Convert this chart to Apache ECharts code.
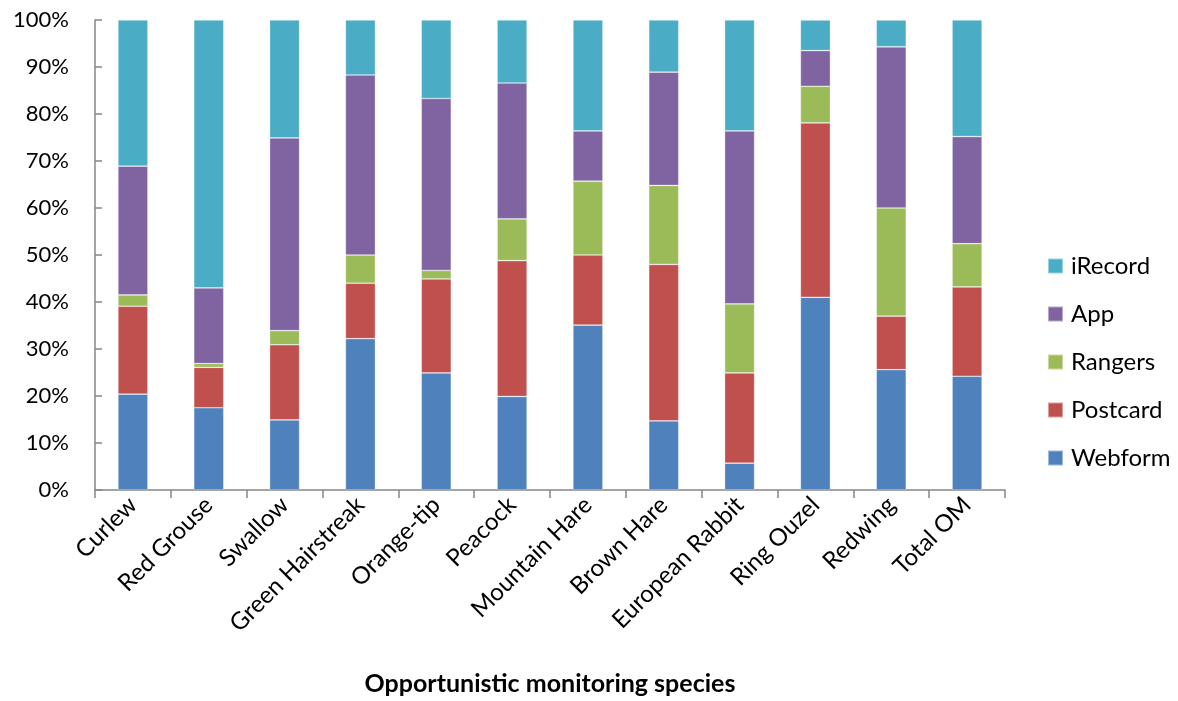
<!DOCTYPE html>
<html>
<head>
<meta charset="utf-8">
<script src="https://cdn.jsdelivr.net/npm/echarts@6/dist/echarts.min.js"></script>
<style>
  html, body { margin: 0; padding: 0; background: #fff; overflow: hidden; }
  #chart { width: 1178px; height: 701px; }
</style>
</head>
<body>
<div id="chart"></div>
<script>
// Share of records (%) by submission channel for each species
const categories = ['Curlew', 'Red Grouse', 'Swallow', 'Green Hairstreak', 'Orange-tip', 'Peacock',
  'Mountain Hare', 'Brown Hare', 'European Rabbit', 'Ring Ouzel', 'Redwing', 'Total OM'];
const webform  = [20.4, 17.5, 14.9, 32.2, 24.9, 19.9, 35.1, 14.7,  5.7, 41.0, 25.6, 24.2];
const postcard = [18.7,  8.6, 16.0, 11.8, 20.0, 28.9, 14.9, 33.3, 19.2, 37.1, 11.4, 19.0];
const rangers  = [ 2.4,  0.8,  3.0,  6.0,  1.8,  8.9, 15.7, 16.8, 14.7,  7.8, 23.0,  9.2];
const app      = [27.4, 16.1, 41.0, 38.3, 36.6, 28.9, 10.7, 24.1, 36.8,  7.6, 34.3, 22.8];
const irecord  = [31.1, 57.0, 25.1, 11.7, 16.7, 13.4, 23.6, 11.1, 23.6,  6.5,  5.7, 24.8];
const yTicks = [0, 10, 20, 30, 40, 50, 60, 70, 80, 90, 100];

const FONT = 'Lato, "Open Sans", sans-serif';
const axisGrey = '#868686';

const seriesDefs = [
  { name: 'Webform',  data: webform,  color: '#4F81BD' },
  { name: 'Postcard', data: postcard, color: '#C0504D' },
  { name: 'Rangers',  data: rangers,  color: '#9BBB59' },
  { name: 'App',      data: app,      color: '#8064A2' },
  { name: 'iRecord',  data: irecord,  color: '#4BACC6' }
];

const chart = echarts.init(document.getElementById('chart'), null, { renderer: 'canvas' });
chart.setOption({
  animation: false,
  backgroundColor: '#ffffff',
  grid: { left: 95, right: 173, top: 20, bottom: 210, containLabel: false },
  legend: {
    data: ['iRecord', 'App', 'Rangers', 'Postcard', 'Webform'],
    orient: 'vertical',
    left: 1047,
    top: 254,
    padding: 0,
    itemWidth: 15,
    itemHeight: 15,
    itemGap: 24,
    icon: 'rect',
    textStyle: { fontFamily: FONT, fontSize: 24, lineHeight: 24, color: '#000', padding: [0, 0, 0, 3] }
  },
  xAxis: {
    type: 'category',
    data: categories,
    name: 'Opportunistic monitoring species',
    nameLocation: 'middle',
    nameGap: 181,
    nameTextStyle: { fontFamily: FONT, fontSize: 25, fontWeight: 'bold', color: '#000' },
    axisLine: { lineStyle: { color: axisGrey, width: 1.5 } },
    axisTick: { show: true, length: 8, lineStyle: { color: axisGrey, width: 1.5 } },
    axisLabel: { rotate: 45, interval: 0, margin: 11, fontFamily: FONT, fontSize: 24, color: '#000' },
    splitLine: { show: false }
  },
  yAxis: {
    type: 'value',
    min: yTicks[0],
    max: yTicks[yTicks.length - 1],
    interval: 10,
    axisLine: { show: true, lineStyle: { color: axisGrey, width: 1.5 } },
    axisTick: { show: true, inside: true, length: 7, lineStyle: { color: axisGrey, width: 1.5 } },
    axisLabel: { formatter: '{value}%', margin: 26, fontFamily: FONT, fontSize: 22, color: '#000' },
    splitLine: { show: false }
  },
  series: seriesDefs.map(s => ({
    name: s.name,
    type: 'bar',
    stack: 'total',
    barWidth: 30,
    data: s.data,
    itemStyle: { color: s.color, borderColor: 'rgba(255,255,255,0.45)', borderWidth: 0.7 }
  }))
});
</script>
</body>
</html>
